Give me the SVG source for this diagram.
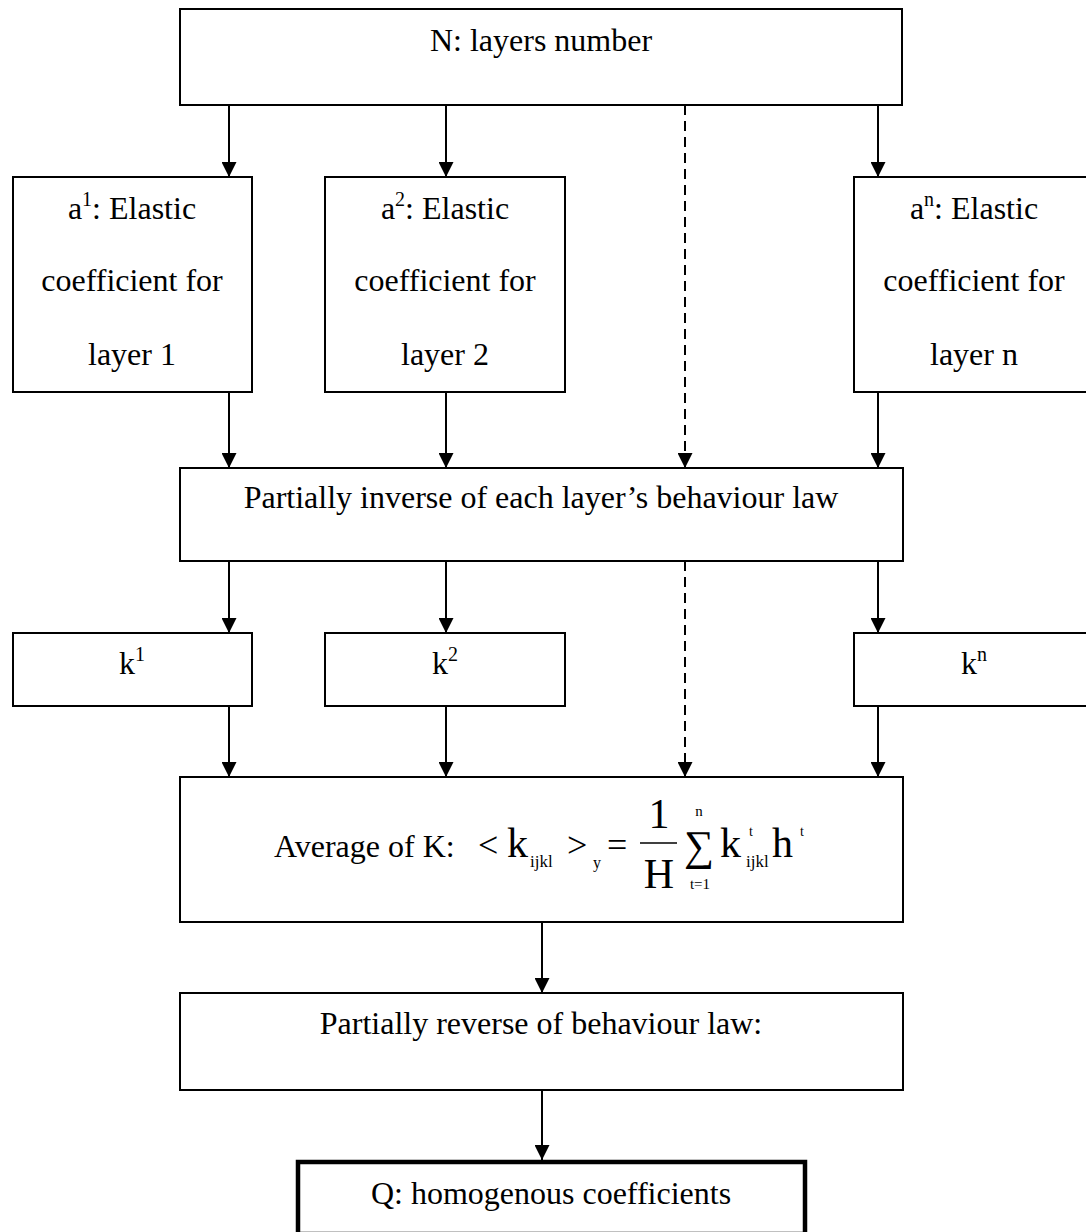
<svg xmlns="http://www.w3.org/2000/svg" width="1086" height="1232" viewBox="0 0 1086 1232">
<defs>
<style>
.box{fill:#fff;stroke:#000;stroke-width:2}
.thick{fill:#fff;stroke:#000;stroke-width:4.5}
.t{font-family:'Liberation Serif','Times New Roman',Times,'DejaVu Serif',serif;font-size:32px;fill:#000}
.c{text-anchor:middle}
.f{font-family:'Liberation Serif','Times New Roman',Times,'DejaVu Serif',serif;fill:#000}
.ln{stroke:#000;stroke-width:2;fill:none;marker-end:url(#ah)}
.dash{stroke-dasharray:10 6}
</style>
<marker id="ah" markerUnits="userSpaceOnUse" markerWidth="15" markerHeight="15" refX="15" refY="7.5" orient="auto">
<path d="M0,0 L15,7.5 L0,15 z" fill="#000"/>
</marker>
</defs>
<rect width="1086" height="1232" fill="#fff"/>

<g id="connectors">
<line class="ln" x1="229" y1="105" x2="229" y2="177"/>
<line class="ln" x1="446" y1="105" x2="446" y2="177"/>
<line class="ln" x1="878" y1="105" x2="878" y2="177"/>
<line class="ln dash" x1="685" y1="105" x2="685" y2="468"/>
<line class="ln" x1="229" y1="392" x2="229" y2="468"/>
<line class="ln" x1="446" y1="392" x2="446" y2="468"/>
<line class="ln" x1="878" y1="392" x2="878" y2="468"/>
<line class="ln" x1="229" y1="561" x2="229" y2="633"/>
<line class="ln" x1="446" y1="561" x2="446" y2="633"/>
<line class="ln" x1="878" y1="561" x2="878" y2="633"/>
<line class="ln dash" x1="685" y1="561" x2="685" y2="777"/>
<line class="ln" x1="229" y1="706" x2="229" y2="777"/>
<line class="ln" x1="446" y1="706" x2="446" y2="777"/>
<line class="ln" x1="878" y1="706" x2="878" y2="777"/>
<line class="ln" x1="542" y1="922" x2="542" y2="993"/>
<line class="ln" x1="542" y1="1090" x2="542" y2="1160"/>
</g>

<g id="n-layers">
<rect class="box" x="180" y="9" width="722" height="96"/>
<text class="t c" x="541" y="51">N: layers number</text>
</g>

<g id="a1">
<rect class="box" x="13" y="177" width="239" height="215"/>
<text class="t c" x="132" y="219">a<tspan font-size="20" dy="-13">1</tspan><tspan dy="13">: Elastic</tspan></text>
<text class="t c" x="132" y="291">coefficient for</text>
<text class="t c" x="132" y="365">layer 1</text>
</g>

<g id="a2">
<rect class="box" x="325" y="177" width="240" height="215"/>
<text class="t c" x="445" y="219">a<tspan font-size="20" dy="-13">2</tspan><tspan dy="13">: Elastic</tspan></text>
<text class="t c" x="445" y="291">coefficient for</text>
<text class="t c" x="445" y="365">layer 2</text>
</g>

<g id="an">
<rect class="box" x="854" y="177" width="240" height="215"/>
<text class="t c" x="974" y="219">a<tspan font-size="20" dy="-13">n</tspan><tspan dy="13">: Elastic</tspan></text>
<text class="t c" x="974" y="291">coefficient for</text>
<text class="t c" x="974" y="365">layer n</text>
</g>

<g id="partial-inverse">
<rect class="box" x="180" y="468" width="723" height="93"/>
<text class="t c" x="541" y="508">Partially inverse of each layer’s behaviour law</text>
</g>

<g id="k1">
<rect class="box" x="13" y="633" width="239" height="73"/>
<text class="t c" x="132" y="674">k<tspan font-size="20" dy="-13">1</tspan></text>
</g>

<g id="k2">
<rect class="box" x="325" y="633" width="240" height="73"/>
<text class="t c" x="445" y="674">k<tspan font-size="20" dy="-13">2</tspan></text>
</g>

<g id="kn">
<rect class="box" x="854" y="633" width="240" height="73"/>
<text class="t c" x="974" y="674">k<tspan font-size="20" dy="-13">n</tspan></text>
</g>

<g id="average">
<rect class="box" x="180" y="777" width="723" height="145"/>
<text class="t" x="274" y="857">Average of K:</text>
<text class="f" x="478" y="857" font-size="36">&lt;</text>
<text class="f" x="507" y="857" font-size="42">k</text>
<text class="f" x="530" y="867" font-size="17">ijkl</text>
<text class="f" x="567" y="857" font-size="36">&gt;</text>
<text class="f" x="593" y="868" font-size="16">y</text>
<text class="f" x="607" y="857" font-size="36">=</text>
<text class="f c" x="659" y="828" font-size="42">1</text>
<line x1="640" y1="843" x2="677" y2="843" stroke="#000" stroke-width="1.5"/>
<text class="f c" x="659" y="888" font-size="42">H</text>
<text class="f c" x="699" y="860" font-size="42">∑</text>
<text class="f c" x="699" y="816" font-size="15">n</text>
<text class="f c" x="700" y="889" font-size="15">t=1</text>
<text class="f" x="720" y="857" font-size="42">k</text>
<text class="f" x="749" y="836" font-size="14">t</text>
<text class="f" x="746" y="867" font-size="17">ijkl</text>
<text class="f" x="772" y="857" font-size="42">h</text>
<text class="f" x="800" y="836" font-size="14">t</text>
</g>

<g id="partial-reverse">
<rect class="box" x="180" y="993" width="723" height="97"/>
<text class="t c" x="541" y="1034">Partially reverse of behaviour law:</text>
</g>

<g id="q">
<rect class="thick" x="298" y="1162" width="507" height="72"/>
<text class="t c" x="551" y="1204">Q: homogenous coefficients</text>
</g>
</svg>
